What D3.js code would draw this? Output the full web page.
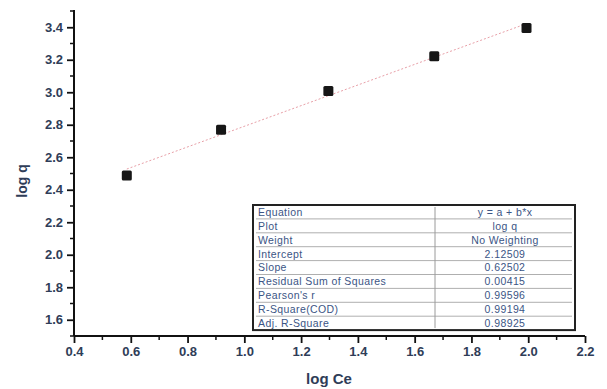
<!DOCTYPE html>
<html>
<head>
<meta charset="utf-8">
<script src="https://cdn.jsdelivr.net/npm/d3@7"></script>
<style>
  body { margin: 0; background: #fff; }
  svg { display: block; font-family: Arial, "Liberation Sans", sans-serif; }
</style>
</head>
<body>
<svg id="chart" width="607" height="389"></svg>
<script>
// data
var logCe = [0.586, 0.918, 1.296, 1.669, 1.994];
var logQ = [2.488, 2.770, 3.007, 3.221, 3.396];
var xTicks = [0.4, 0.6, 0.8, 1.0, 1.2, 1.4, 1.6, 1.8, 2.0, 2.2];
var yTicks = [1.6, 1.8, 2.0, 2.2, 2.4, 2.6, 2.8, 3.0, 3.2, 3.4];
var tableLabels = ["Equation", "Plot", "Weight", "Intercept", "Slope",
  "Residual Sum of Squares", "Pearson's r", "R-Square(COD)", "Adj. R-Square"];
var tableValues = ["y = a + b*x", "log q", "No Weighting", "2.12509", "0.62502",
  "0.00415", "0.99596", "0.99194", "0.98925"];

var svg = d3.select("#chart");
var pLeft = 74, pRight = 585, pTop = 11, pBottom = 336;

var x = d3.scaleLinear().domain([0.4, 2.2]).range([pLeft, pRight]);
var y = d3.scaleLinear().domain([1.5, 3.5]).range([pBottom, pTop]);

var labelColor = "#2f3d58";

// minor ticks
var xMinor = d3.range(0.5, 2.2, 0.2);
var yMinor = d3.range(1.5, 3.51, 0.2);

svg.selectAll(".xminor").data(xMinor).enter().append("line")
  .attr("x1", function(d) { return x(d); }).attr("x2", function(d) { return x(d); })
  .attr("y1", pBottom).attr("y2", pBottom + 4)
  .attr("stroke", "#111").attr("stroke-width", 1.5);
svg.selectAll(".yminor").data(yMinor).enter().append("line")
  .attr("y1", function(d) { return y(d); }).attr("y2", function(d) { return y(d); })
  .attr("x1", pLeft).attr("x2", pLeft - 4)
  .attr("stroke", "#111").attr("stroke-width", 1.5);

// axes
var xAxis = svg.append("g").attr("transform", "translate(0," + pBottom + ")")
  .call(d3.axisBottom(x).tickValues(xTicks).tickSize(7).tickPadding(4)
    .tickFormat(d3.format(".1f")));
var yAxis = svg.append("g").attr("transform", "translate(" + pLeft + ",0)")
  .call(d3.axisLeft(y).tickValues(yTicks).tickSize(7).tickPadding(4)
    .tickFormat(d3.format(".1f")));

[xAxis, yAxis].forEach(function(g) {
  g.select(".domain").attr("stroke", "#111").attr("stroke-width", 2);
  g.selectAll(".tick line").attr("stroke", "#111").attr("stroke-width", 1.8);
  g.selectAll("text").attr("font-size", 13).attr("font-weight", "bold")
    .attr("fill", labelColor);
});
xAxis.select(".domain").attr("d", "M" + pLeft + ",0H" + pRight);
yAxis.select(".domain").attr("d", "M0," + pBottom + "V" + (pTop - 1));

// axis titles
svg.append("text").attr("x", 329).attr("y", 384)
  .attr("text-anchor", "middle").attr("font-size", 15).attr("font-weight", "bold")
  .attr("fill", labelColor).text("log Ce");
svg.append("text").attr("transform", "translate(27,181) rotate(-90)")
  .attr("text-anchor", "middle").attr("font-size", 14).attr("font-weight", "bold")
  .attr("fill", labelColor).text("log q");

// fitted line (least squares through the plotted points)
var mx = d3.mean(logCe), my = d3.mean(logQ);
var sxy = d3.sum(logCe, function(d, i) { return (d - mx) * (logQ[i] - my); });
var sxx = d3.sum(logCe, function(d) { return (d - mx) * (d - mx); });
var b = sxy / sxx, a = my - b * mx;
var x0 = d3.min(logCe), x1 = d3.max(logCe);
svg.append("line")
  .attr("x1", x(x0)).attr("y1", y(a + b * x0))
  .attr("x2", x(x1)).attr("y2", y(a + b * x1))
  .attr("stroke", "#e8a0a8").attr("stroke-width", 1)
  .attr("stroke-dasharray", "2,2");

// points
svg.selectAll(".pt").data(logCe).enter().append("rect")
  .attr("x", function(d) { return x(d) - 5; })
  .attr("y", function(d, i) { return y(logQ[i]) - 5; })
  .attr("width", 10).attr("height", 10).attr("rx", 1.5)
  .attr("fill", "#161616");

// stats table
var tx = 253, ty = 205, tw = 322, rowH = 13.9, splitX = 435;
var tbl = svg.append("g");
tbl.append("rect").attr("x", tx).attr("y", ty).attr("width", tw)
  .attr("height", rowH * tableLabels.length)
  .attr("fill", "#fff").attr("stroke", "#222").attr("stroke-width", 2);
tbl.selectAll(".rowline").data(d3.range(1, tableLabels.length)).enter().append("line")
  .attr("x1", tx + 3).attr("x2", tx + tw - 3)
  .attr("y1", function(d) { return ty + d * rowH; })
  .attr("y2", function(d) { return ty + d * rowH; })
  .attr("stroke", "#9a9a9a").attr("stroke-width", 0.8);
tbl.append("line").attr("x1", splitX).attr("x2", splitX)
  .attr("y1", ty + 2).attr("y2", ty + rowH * tableLabels.length - 2)
  .attr("stroke", "#9a9a9a").attr("stroke-width", 1);
tbl.selectAll(".lab").data(tableLabels).enter().append("text")
  .attr("x", tx + 5).attr("y", function(d, i) { return ty + i * rowH + 10.8; })
  .attr("font-size", 10.5).attr("letter-spacing", 0.4)
  .attr("fill", "#3b5585").text(function(d) { return d; });
tbl.selectAll(".val").data(tableValues).enter().append("text")
  .attr("x", (splitX + tx + tw) / 2).attr("y", function(d, i) { return ty + i * rowH + 10.8; })
  .attr("text-anchor", "middle")
  .attr("font-size", 10.5).attr("letter-spacing", 0.4)
  .attr("fill", "#3b5585").text(function(d) { return d; });
</script>
</body>
</html>
